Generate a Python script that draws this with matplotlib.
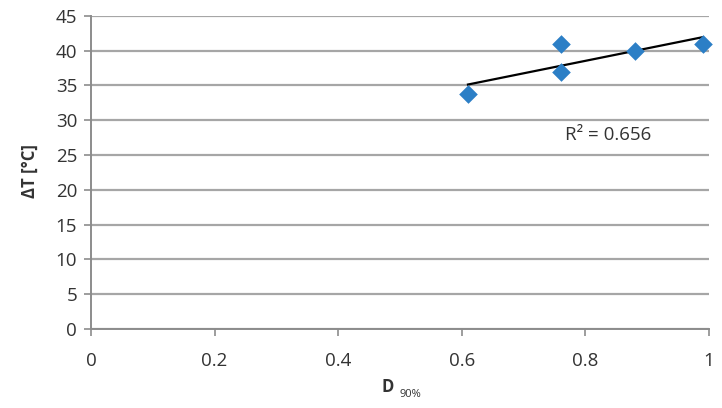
import numpy as np
import matplotlib
matplotlib.use("Agg")
import matplotlib.pyplot as plt

plt.rcParams['font.family'] = ['Open Sans', 'DejaVu Sans']

# measured points
d90 = [0.61, 0.76, 0.76, 0.88, 0.99]
delta_t = [33.7, 41.0, 37.0, 40.0, 41.0]
r2_label = "R² = 0.656"

x_ticks = [0, 0.2, 0.4, 0.6, 0.8, 1]
x_tick_labels = ["0", "0.2", "0.4", "0.6", "0.8", "1"]
y_ticks = list(range(0, 50, 5))

fig = plt.figure(figsize=(7.22, 4.08), dpi=100)
ax = fig.add_axes([0.126, 0.194, 0.856, 0.767])

ax.set_xlim(0, 1)
ax.set_ylim(0, 45)
ax.set_xticks(x_ticks)
ax.set_xticklabels(x_tick_labels)
ax.set_yticks(y_ticks)

ax.grid(axis='y', color='#a6a6a6', linewidth=1.6)
ax.set_axisbelow(True)
for s in ['top', 'right']:
    ax.spines[s].set_visible(False)
for s in ['left', 'bottom']:
    ax.spines[s].set_color('#8c8c8c')
    ax.spines[s].set_linewidth(1.4)
ax.tick_params(axis='both', direction='out', length=5, width=1.2, color='#8c8c8c',
               labelsize=13.5, labelcolor='#333333', pad=5)
ax.tick_params(axis='x', pad=12)

# linear trendline over data range
x = np.array(d90)
y = np.array(delta_t)
k, b = np.polyfit(x, y, 1)
xl = np.array([x.min(), x.max()])
ax.plot(xl, k * xl + b, color='black', linewidth=1.6, zorder=3)

ax.scatter(d90, delta_t, marker='D', s=90, color='#2c7fc6', zorder=4, linewidths=0,
           clip_on=False)

ax.text(0.767, 27.9, r2_label, fontsize=13.5, color='#333333', va='center', ha='left')

fig.text(0.042, 0.58, "ΔT [°C]", rotation=90, fontsize=12, fontweight='bold',
         color='#333333', ha='center', va='center')
fig.text(0.546, 0.04, "D", fontsize=12, fontweight='bold', color='#333333',
         ha='right', va='baseline')
fig.text(0.553, 0.04 - 0.012, "90%", fontsize=8, color='#333333',
         ha='left', va='baseline')

fig.savefig("out.png", dpi=100)
